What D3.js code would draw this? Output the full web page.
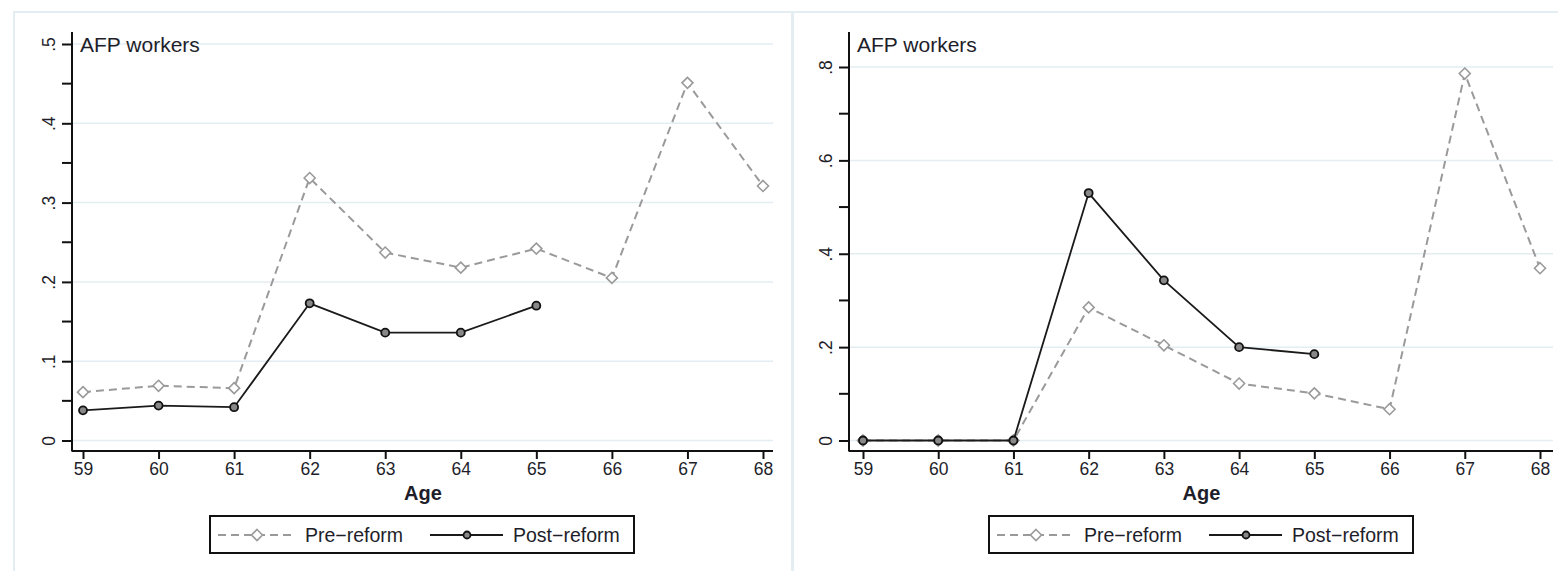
<!DOCTYPE html>
<html>
<head>
<meta charset="utf-8">
<script src="https://cdn.jsdelivr.net/npm/d3@7"></script>
<style>
  body { margin: 0; background: #fff; }
  svg { font-family: "Liberation Sans", Arial, sans-serif; }
</style>
</head>
<body>
<svg id="chart" width="1558" height="571"></svg>
<script>
// data
const ages = [59, 60, 61, 62, 63, 64, 65, 66, 67, 68];
const leftPre  = [0.061, 0.069, 0.066, 0.331, 0.237, 0.218, 0.242, 0.205, 0.451, 0.321];
const leftPost = [0.038, 0.044, 0.042, 0.173, 0.136, 0.136, 0.170];
const rightPre  = [0, 0, 0, 0.285, 0.204, 0.122, 0.101, 0.067, 0.786, 0.369];
const rightPost = [0, 0, 0, 0.530, 0.343, 0.200, 0.185];
const leftTicks  = [0, 0.1, 0.2, 0.3, 0.4, 0.5];
const leftMinor  = [0.05, 0.15, 0.25, 0.35, 0.45];
const rightTicks = [0, 0.2, 0.4, 0.6, 0.8];
const rightMinor = [0.1, 0.3, 0.5, 0.7];
const panelTitle = "AFP workers";
const seriesNames = ["Pre\u2212reform", "Post\u2212reform"];

const svg = d3.select("#chart");
const gridColor = "#e4eef2";
const preColor = "#9a9a9a";
const textColor = "#1e1e2a";

// panel frames
svg.append("rect").attr("x", 14).attr("y", 12).attr("width", 778).attr("height", 570)
  .attr("fill", "none").attr("stroke", gridColor).attr("stroke-width", 2);
svg.append("rect").attr("x", 793).attr("y", 12).attr("width", 780).attr("height", 570)
  .attr("fill", "none").attr("stroke", gridColor).attr("stroke-width", 2);

const fmt = d => d === 0 ? "0" : d3.format(".1f")(d).replace(/^0/, "");

function panel(o) {
  const x = d3.scaleLinear().domain([59, 68]).range([o.x0, o.x1]);
  const y = d3.scaleLinear().domain([0, o.ymax]).range([440.5, o.ytop]);
  const g = svg.append("g");

  // grid
  g.append("g").selectAll("line").data(o.ticks).join("line")
    .attr("x1", o.axisX).attr("x2", o.gridEnd)
    .attr("y1", d => y(d)).attr("y2", d => y(d))
    .attr("stroke", gridColor).attr("stroke-width", 1.5);

  // y axis
  const ya = g.append("g").attr("transform", `translate(${o.axisX},0)`)
    .call(d3.axisLeft(y).tickValues(o.ticks).tickSize(10).tickFormat(fmt))
    .attr("font-size", 17.5).attr("font-family", null);
  ya.select(".domain").attr("d", `M0,32V451.5`).attr("stroke", "#111").attr("stroke-width", 2);
  ya.selectAll(".tick line").attr("stroke", "#111").attr("stroke-width", 2);
  ya.selectAll(".tick text")
    .attr("x", null).attr("dy", null)
    .attr("transform", "translate(-22,0) rotate(-90)")
    .attr("text-anchor", "middle").attr("dominant-baseline", "middle")
    .attr("fill", textColor);
  g.append("g").selectAll("line").data(o.minor).join("line")
    .attr("x1", o.axisX - 10).attr("x2", o.axisX)
    .attr("y1", d => y(d)).attr("y2", d => y(d))
    .attr("stroke", "#111").attr("stroke-width", 2);

  // x axis
  const xa = g.append("g").attr("transform", "translate(0,451)")
    .call(d3.axisBottom(x).tickValues(ages).tickSize(8).tickFormat(d3.format("d")))
    .attr("font-size", 17.5).attr("font-family", null);
  xa.select(".domain").attr("d", `M${o.axisX},0H${o.gridEnd}`).attr("stroke", "#111").attr("stroke-width", 2);
  xa.selectAll(".tick line").attr("stroke", "#111").attr("stroke-width", 2);
  xa.selectAll(".tick text").attr("y", 12).attr("fill", textColor);

  g.append("text").attr("x", (o.x0 + o.x1) / 2).attr("y", 500)
    .attr("text-anchor", "middle").attr("font-size", 20).attr("font-weight", "bold")
    .attr("fill", textColor).text("Age");

  g.append("text").attr("x", o.axisX + 8).attr("y", 52)
    .attr("font-size", 21).attr("fill", textColor).text(panelTitle);

  const line = d3.line().x((d, i) => x(ages[i])).y(d => y(d));

  // pre-reform
  g.append("path").datum(o.pre).attr("d", line)
    .attr("fill", "none").attr("stroke", preColor).attr("stroke-width", 2)
    .attr("stroke-dasharray", "8,5");
  g.append("g").selectAll("path").data(o.pre).join("path")
    .attr("transform", (d, i) => `translate(${x(ages[i])},${y(d)})`)
    .attr("d", "M0,-5.5L5.5,0L0,5.5L-5.5,0Z")
    .attr("fill", "#fff").attr("stroke", preColor).attr("stroke-width", 1.6);

  // post-reform
  g.append("path").datum(o.post).attr("d", line)
    .attr("fill", "none").attr("stroke", "#1a1a1a").attr("stroke-width", 1.8);
  g.append("g").selectAll("circle").data(o.post).join("circle")
    .attr("cx", (d, i) => x(ages[i])).attr("cy", d => y(d)).attr("r", 4)
    .attr("fill", "#888").attr("stroke", "#111").attr("stroke-width", 1.8);

  // legend
  const lg = g.append("g").attr("transform", `translate(${o.legendX},516)`);
  lg.append("rect").attr("x", 0).attr("y", 0).attr("width", 424).attr("height", 37)
    .attr("fill", "#fff").attr("stroke", "#111").attr("stroke-width", 2);
  lg.append("line").attr("x1", 8).attr("x2", 86).attr("y1", 19).attr("y2", 19)
    .attr("stroke", preColor).attr("stroke-width", 2).attr("stroke-dasharray", "8,5");
  lg.append("path").attr("transform", "translate(47,19)")
    .attr("d", "M0,-5.5L5.5,0L0,5.5L-5.5,0Z")
    .attr("fill", "#fff").attr("stroke", preColor).attr("stroke-width", 1.6);
  lg.append("text").attr("x", 95).attr("y", 26).attr("font-size", 19.5).attr("fill", textColor).text(seriesNames[0]);
  lg.append("line").attr("x1", 220).attr("x2", 293).attr("y1", 19).attr("y2", 19)
    .attr("stroke", "#1a1a1a").attr("stroke-width", 1.8);
  lg.append("circle").attr("cx", 257).attr("cy", 19).attr("r", 3.5)
    .attr("fill", "#888").attr("stroke", "#111").attr("stroke-width", 1.8);
  lg.append("text").attr("x", 303).attr("y", 26).attr("font-size", 19.5).attr("fill", textColor).text(seriesNames[1]);
}

panel({ x0: 83, x1: 763, axisX: 72, gridEnd: 773, ymax: 0.5, ytop: 44,
        ticks: leftTicks, minor: leftMinor, pre: leftPre, post: leftPost, legendX: 210 });
panel({ x0: 863, x1: 1540, axisX: 849, gridEnd: 1553, ymax: 0.8, ytop: 67,
        ticks: rightTicks, minor: rightMinor, pre: rightPre, post: rightPost, legendX: 989 });
</script>
</body>
</html>
